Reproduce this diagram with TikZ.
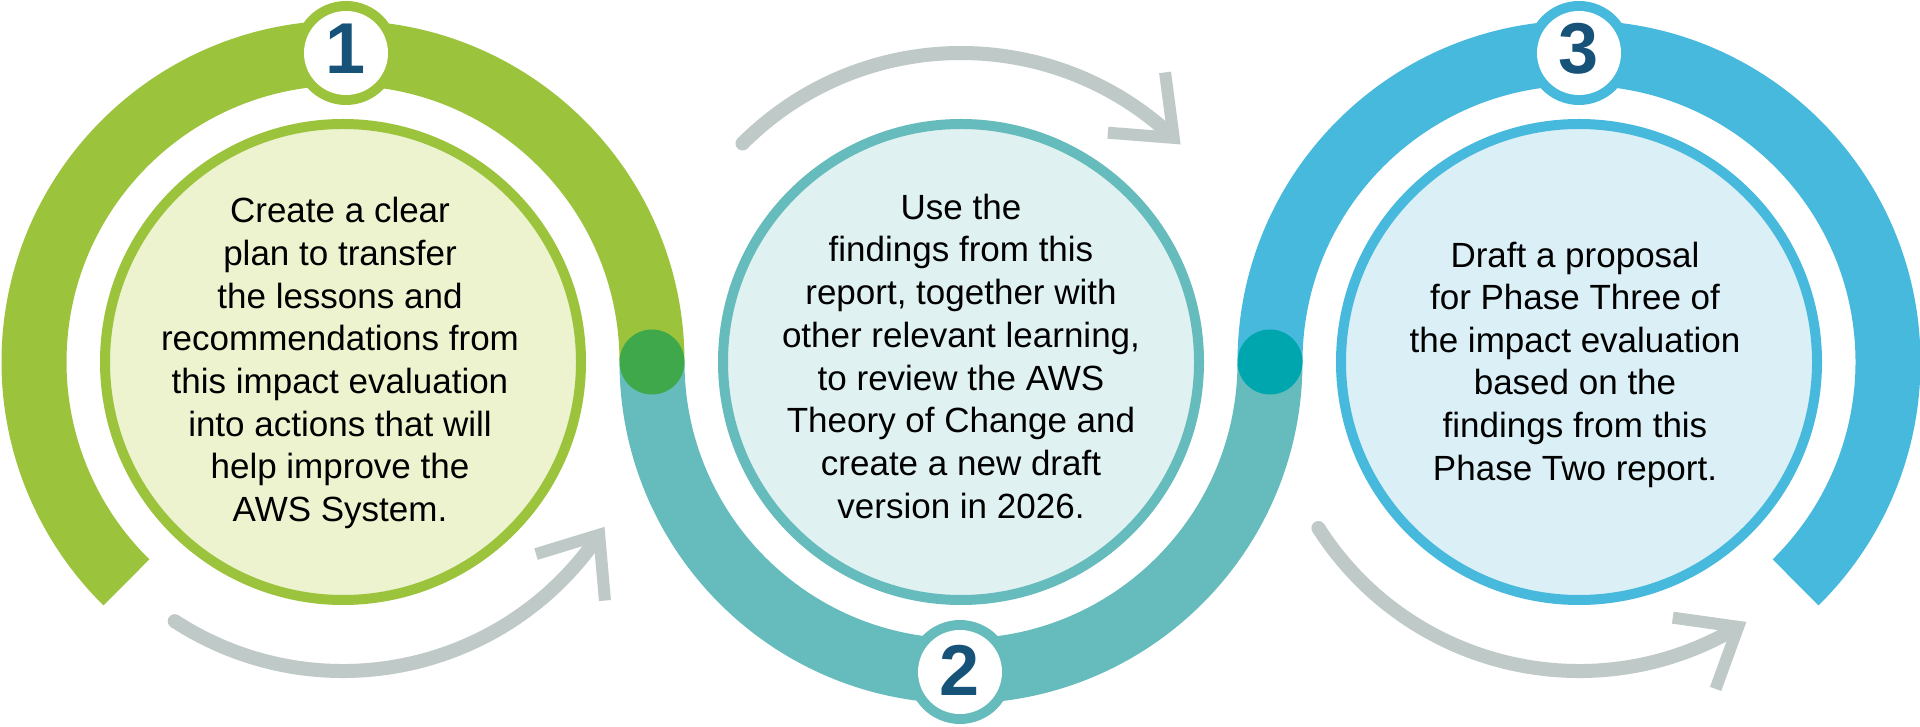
\documentclass[tikz,border=0pt]{standalone}
\usepackage{fontspec}
\setmainfont{Liberation Sans}
\usetikzlibrary{calc}
\definecolor{gring}{HTML}{9CC33C}
\definecolor{gfill}{HTML}{ECF3CE}
\definecolor{gdot}{HTML}{3EA84A}
\definecolor{tring}{HTML}{66BBBC}
\definecolor{tfill}{HTML}{E0F1F1}
\definecolor{tdot}{HTML}{00A6AE}
\definecolor{bring}{HTML}{46B9DC}
\definecolor{bfill}{HTML}{DBEFF6}
\definecolor{arrowgray}{HTML}{BFC9C8}
\definecolor{numblue}{HTML}{175278}
\begin{document}
\begin{tikzpicture}[x=1pt,y=1pt,
  ring/.style={line width=65pt, line cap=butt},
  disk/.style={circle, inner sep=0pt, minimum size=476pt, line width=10pt},
  dotnode/.style={circle, inner sep=0pt, minimum size=65pt},
  numring/.style={circle, inner sep=0pt, minimum size=104pt},
  numwhite/.style={circle, inner sep=0pt, minimum size=84pt, fill=white},
  numtext/.style={anchor=base, inner sep=0pt, text=numblue, font=\fontsize{72}{72}\selectfont\bfseries},
  bodytext/.style={anchor=base, inner sep=0pt, font=\fontsize{35}{42}\selectfont},
  arcarrow/.style={draw=arrowgray, line width=14pt, line cap=butt},
  barb/.style={draw=arrowgray, line width=12pt, line cap=butt, line join=miter},
]
\useasboundingbox (0,0) rectangle (1920,726);
\fill[white] (0,0) rectangle (1920,726);
\coordinate (C1) at (343,364);
\coordinate (C2) at (961,364);
\coordinate (C3) at (1579,364);

% rings
\draw[ring, draw=gring] ($(C1)+(0:309)$) arc[start angle=0, end angle=225.5, radius=309];
\draw[ring, draw=tring] ($(C2)+(180:309)$) arc[start angle=180, end angle=360, radius=309];
\draw[ring, draw=bring] ($(C3)+(180:309)$) arc[start angle=180, end angle=-45.5, radius=309];

% junction dots
\node[dotnode, fill=gdot] (dot1) at ($(C1)+(0:309)$) {};
\node[dotnode, fill=tdot] (dot2) at ($(C2)+(0:309)$) {};

% number badges
\node[numring, fill=gring] (n1r) at (346,673) {};
\node[numwhite] (n1w) at (n1r) {};
\node[numtext] (n1) at ($(n1r)+(0,-21)$) {1};
\node[numring, fill=tring] (n2r) at (960,54) {};
\node[numwhite] (n2w) at (n2r) {};
\node[numtext] (n2) at ($(n2r)+(0,-23)$) {2};
\node[numring, fill=bring] (n3r) at (1579,673) {};
\node[numwhite] (n3w) at (n3r) {};
\node[numtext] (n3) at ($(n3r)+(0,-21)$) {3};

% inner disks
\node[disk, draw=gring, fill=gfill] (d1) at (C1) {};
\node[disk, draw=tring, fill=tfill] (d2) at (C2) {};
\node[disk, draw=bring, fill=bfill] (d3) at (C3) {};

% gray cycle arrows
\coordinate (a1s) at ($(C1)+(237:309)$);
\coordinate (a1e) at ($(C1)+(326:309)$);
\fill[arrowgray] (a1s) circle[radius=7];
\draw[arcarrow] (a1s) arc[start angle=237, end angle=326, radius=309];
\draw[barb] ($(a1e)+(197:66)$) -- (a1e) -- ($(a1e)+(275:66)$);

\coordinate (a2s) at ($(C2)+(135:309)$);
\coordinate (a2e) at ($(C2)+(46.5:309)$);
\fill[arrowgray] (a2s) circle[radius=7];
\draw[arcarrow] (a2s) arc[start angle=135, end angle=46.5, radius=309];
\draw[barb] ($(a2e)+(97.5:66)$) -- (a2e) -- ($(a2e)+(175.5:66)$);

\coordinate (a3s) at ($(C3)+(212.5:309)$);
\coordinate (a3e) at ($(C3)+(301:309)$);
\fill[arrowgray] (a3s) circle[radius=7];
\draw[arcarrow] (a3s) arc[start angle=212.5, end angle=301, radius=309];
\draw[barb] ($(a3e)+(172:66)$) -- (a3e) -- ($(a3e)+(250:66)$);

% texts
\foreach \t [count=\i from 0] in {Create a clear, plan to transfer, the lessons and, recommendations from, this impact evaluation, into actions that will, help improve the, AWS System.}
  \node[bodytext] (t1-\i) at (340, 503.3-42.7*\i) {\t};

\foreach \t [count=\i from 0] in {Use the, findings from this, {report, together with}, {other relevant learning,}, to review the AWS, Theory of Change and, create a new draft, version in 2026.}
  \node[bodytext] (t2-\i) at (961, 506.7-42.7*\i) {\t};

\foreach \t [count=\i from 0] in {Draft a proposal, for Phase Three of, the impact evaluation, based on the, findings from this, Phase Two report.}
  \node[bodytext] (t3-\i) at (1575, 458.7-42.55*\i) {\t};
\end{tikzpicture}
\end{document}
